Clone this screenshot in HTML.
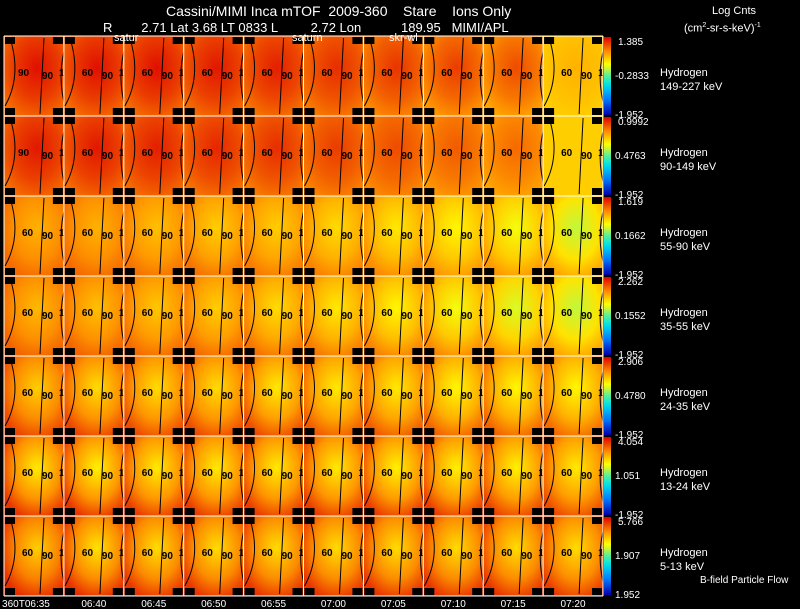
<!DOCTYPE html>
<html><head><meta charset="utf-8">
<style>
html,body{margin:0;padding:0;background:#000;}
body{width:800px;height:609px;overflow:hidden;position:relative;font-family:"Liberation Sans",sans-serif;color:#fff;}
.t{position:absolute;white-space:nowrap;font-size:13px;line-height:13px;}
.s{font-size:11px;line-height:11px;}
</style></head>
<body>
<div class="t" style="left:166px;top:5px;font-size:14px;">Cassini/MIMI Inca mTOF&nbsp; 2009-360&nbsp;&nbsp;&nbsp; Stare&nbsp;&nbsp;&nbsp; Ions Only</div>
<div class="t" style="left:103px;top:21px;font-size:13px;">R&nbsp;&nbsp;&nbsp;&nbsp;&nbsp;&nbsp;&nbsp; 2.71 Lat 3.68 LT 0833 L&nbsp;&nbsp;&nbsp;&nbsp;&nbsp;&nbsp;&nbsp;&nbsp; 2.72 Lon&nbsp;&nbsp;&nbsp;&nbsp;&nbsp;&nbsp;&nbsp;&nbsp;&nbsp;&nbsp; 189.95&nbsp;&nbsp; MIMI/APL</div>
<div class="t s" style="left:712px;top:6px;">Log Cnts</div>
<div class="t s" style="left:684px;top:20px;">(cm<sup style="font-size:7px">2</sup>-sr-s-keV)<sup style="font-size:7px">-1</sup></div>
<svg id="chart" width="800" height="609" style="position:absolute;left:0;top:0" xmlns="http://www.w3.org/2000/svg"></svg>
<div class="t s" style="left:114px;top:33px;">satur</div>
<div class="t s" style="left:292px;top:33px;">saturn</div>
<div class="t s" style="left:389px;top:33px;">skr-wl</div>
<div class="t" style="left:700px;top:574px;font-size:10px;">B-field Particle Flow</div>
<script>
const NS="http://www.w3.org/2000/svg";
const svg=document.getElementById('chart');
// data
const timeLabels=["360T06:35","06:40","06:45","06:50","06:55","07:00","07:05","07:10","07:15","07:20"];
const energyBands=["149-227 keV","90-149 keV","55-90 keV","35-55 keV","24-35 keV","13-24 keV","5-13 keV"];
const cbMax=["1.385","0.9992","1.619","2.262","2.906","4.054","5.766"];
const cbMid=["-0.2833","0.4763","0.1662","0.1552","0.4780","1.051","1.907"];
const cbMin=["-1.952","-1.952","-1.952","-1.952","-1.952","-1.952","1.952"];
// center intensity (0=blue,1=red) per row per column
const centerVal=[
 [0.98,0.98,0.98,0.97,0.96,0.94,0.93,0.92,0.9,0.76],
 [0.97,0.97,0.96,0.95,0.94,0.92,0.9,0.88,0.86,0.72],
 [0.76,0.76,0.74,0.72,0.72,0.7,0.68,0.66,0.64,0.6],
 [0.75,0.74,0.73,0.72,0.7,0.68,0.66,0.64,0.62,0.6],
 [0.72,0.7,0.7,0.7,0.68,0.68,0.68,0.66,0.66,0.66],
 [0.68,0.67,0.68,0.68,0.68,0.68,0.67,0.67,0.67,0.68],
 [0.72,0.69,0.7,0.7,0.7,0.7,0.7,0.7,0.7,0.7]];
const edgeVal=[
 [0.86,0.86,0.86,0.86,0.85,0.84,0.82,0.8,0.78,0.72],
 [0.86,0.86,0.86,0.85,0.84,0.83,0.82,0.8,0.78,0.72],
 [0.86,0.86,0.85,0.85,0.84,0.83,0.82,0.8,0.8,0.78],
 [0.87,0.87,0.86,0.86,0.85,0.84,0.83,0.82,0.8,0.78],
 [0.91,0.91,0.9,0.9,0.9,0.88,0.88,0.87,0.87,0.86],
 [0.93,0.93,0.92,0.92,0.92,0.92,0.92,0.92,0.91,0.9],
 [0.94,0.94,0.93,0.93,0.93,0.93,0.93,0.93,0.93,0.92]];
const x0=4,colW=59.9,y0=36,rowH=80,nCols=10,nRows=7;
const xs=c=>x0+c*colW, ys=r=>y0+r*rowH;
function jet(t){
 const stops=[[0,[0,0,170]],[0.2,[0,120,255]],[0.4,[0,230,230]],[0.55,[130,240,120]],[0.65,[255,255,0]],[0.8,[255,150,0]],[1,[220,0,0]]];
 for(let i=1;i<stops.length;i++){if(t<=stops[i][0]){const a=stops[i-1],b=stops[i];const f=(t-a[0])/(b[0]-a[0]);return `rgb(${a[1].map((v,k)=>Math.round(v+(b[1][k]-v)*f)).join(',')})`;}}
 return 'rgb(220,0,0)';
}
function el(tag,attrs,parent){const e=document.createElementNS(NS,tag);for(const k in attrs)e.setAttribute(k,attrs[k]);(parent||svg).appendChild(e);return e;}
const defs=el('defs',{});
for(let r=0;r<nRows;r++){
 for(let c=0;c<nCols;c++){
  const x=xs(c),y=ys(r),w=colW,h=rowH;
  const gid=`g${r}_${c}`;
  const g=el('radialGradient',{id:gid,cx:'0.55',cy:'0.4',r:'0.65'},defs);
  el('stop',{offset:'0',"stop-color":jet(centerVal[r][c])},g);
  el('stop',{offset:'0.6',"stop-color":jet((centerVal[r][c]+edgeVal[r][c])/2)},g);
  el('stop',{offset:'1',"stop-color":jet(edgeVal[r][c])},g);
  const grp=el('g',{});
  
  
  el('rect',{x:x,y:y,width:w,height:h,fill:`url(#${gid})`},grp);
  // black corner blocks
  [[x+1,y+1],[x+w-11,y+1],[x+1,y+h-8],[x+w-11,y+h-8]].forEach(p=>el('rect',{x:p[0],y:p[1],width:10,height:7,fill:'#000'},grp));
  // contours
  el('path',{d:`M${x+6} ${y+2} Q${x+18} ${y+40} ${x+1} ${y+70}`,stroke:'#000','stroke-width':1,fill:'none'},grp);
  el('path',{d:`M${x+40} ${y+2} L${x+36} ${y+78}`,stroke:'#000','stroke-width':1,fill:'none'},grp);
  el('path',{d:`M${x+62} ${y+8} Q${x+52} ${y+40} ${x+62} ${y+74}`,stroke:'#000','stroke-width':1,fill:'none'},grp);
  const l1=el('text',{x:(r<2&&c==0)?x+14:x+18,y:y+40,'font-size':10,'font-family':'Liberation Sans, sans-serif','font-weight':'bold',fill:'#000'},grp);l1.textContent=r<2&&c==0?'90':'60';
  const l2=el('text',{x:x+38,y:y+43,'font-size':10,'font-family':'Liberation Sans, sans-serif','font-weight':'bold',fill:'#000'},grp);l2.textContent='90';
  const l3=el('text',{x:x+55,y:y+40,'font-size':10,'font-family':'Liberation Sans, sans-serif','font-weight':'bold',fill:'#000'},grp);l3.textContent='1';
 }
 // colorbar
 const cg=el('linearGradient',{id:'cb'+r,x1:0,y1:0,x2:0,y2:1},defs);
 [0,0.2,0.35,0.5,0.6,0.8,1].forEach(o=>el('stop',{offset:o,'stop-color':jet(1-o)},cg));
 const cbr=el('rect',{x:604,y:ys(r)+1,width:7,height:rowH-2,fill:`url(#cb${r})`});
 
 
 const tmax=el('text',{x:618,y:ys(r)+9,'font-size':10,fill:'#fff','font-family':'Liberation Sans, sans-serif'});tmax.textContent=cbMax[r];
 
 
 const tmid=el('text',{x:615,y:ys(r)+43,'font-size':10,fill:'#fff','font-family':'Liberation Sans, sans-serif'});tmid.textContent=cbMid[r];
 
 
 const tmin=el('text',{x:615,y:ys(r)+rowH+2,'font-size':10,fill:'#fff','font-family':'Liberation Sans, sans-serif'});tmin.textContent=cbMin[r];
 
 
 const sp=el('text',{x:660,y:ys(r)+40,'font-size':11,fill:'#fff','font-family':'Liberation Sans, sans-serif'});sp.textContent='Hydrogen';
 
 
 const en=el('text',{x:660,y:ys(r)+54,'font-size':11,fill:'#fff','font-family':'Liberation Sans, sans-serif'});en.textContent=energyBands[r];
 
 
}
// white grid lines
for(let c=0;c<=nCols;c++)el('line',{x1:xs(c),y1:y0,x2:xs(c),y2:ys(nRows),stroke:'#fff','stroke-width':1});
for(let r=0;r<=nRows;r++)el('line',{x1:x0,y1:ys(r),x2:xs(nCols),y2:ys(r),stroke:'#fff','stroke-width':1});
timeLabels.forEach((t,c)=>{
 const tx=el('text',{x:xs(c)+colW/2+ (c==0?-8:0),y:607,'font-size':10,fill:'#fff','text-anchor':'middle','font-family':'Liberation Sans, sans-serif'});tx.textContent=t;
 
 
});
</script>
</body></html>
